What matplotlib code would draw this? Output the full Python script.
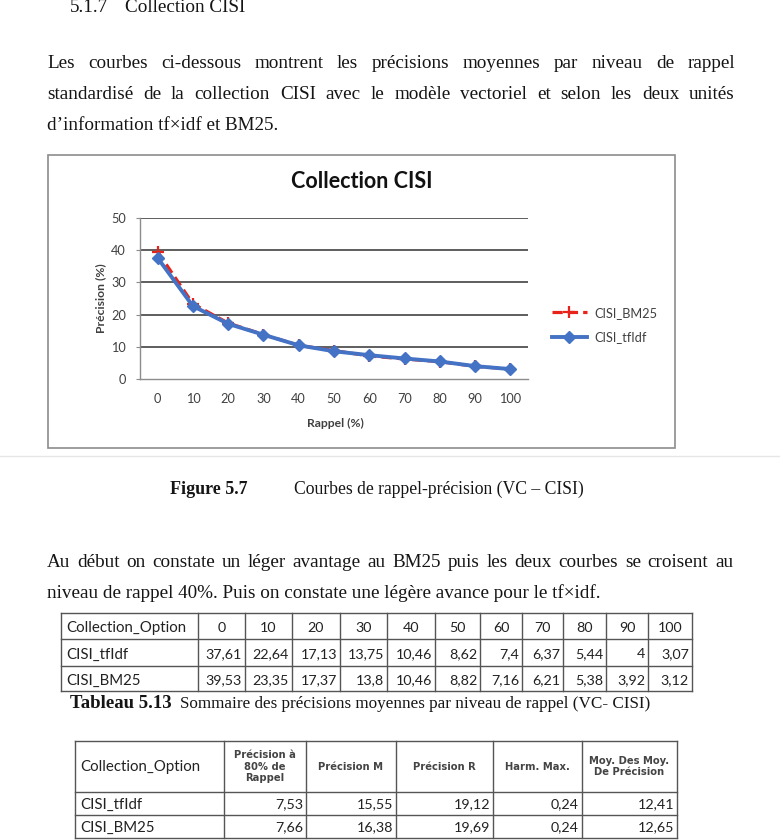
import matplotlib
matplotlib.use('Agg')
import matplotlib.pyplot as plt
from matplotlib.patches import Rectangle

# ---------------- data ----------------
recall = [0, 10, 20, 30, 40, 50, 60, 70, 80, 90, 100]
prec_tfidf = [37.61, 22.64, 17.13, 13.75, 10.46, 8.62, 7.4, 6.37, 5.44, 4, 3.07]
prec_bm25 = [39.53, 23.35, 17.37, 13.8, 10.46, 8.82, 7.16, 6.21, 5.38, 3.92, 3.12]
name_tfidf = 'CISI_tfIdf'
name_bm25 = 'CISI_BM25'
yticks = [0, 10, 20, 30, 40, 50]

summary_headers = ['Précision à\n80% de\nRappel', 'Précision M', 'Précision R',
                   'Harm. Max.', 'Moy. Des Moy.\nDe Précision']
summary_tfidf = [7.53, 15.55, 19.12, 0.24, 12.41]
summary_bm25 = [7.66, 16.38, 19.69, 0.24, 12.65]

W, H = 780, 840
SERIF = 'Liberation Serif'
SANS = 'Lato'
BODY = 13.8

fig = plt.figure(figsize=(W / 100, H / 100), dpi=100)
fig.patch.set_facecolor('white')
page = fig.add_axes([0, 0, 1, 1])
page.set_xlim(0, W)
page.set_ylim(H, 0)
page.axis('off')
renderer = fig.canvas.get_renderer()


def fmt(v):
    return f"{v:g}".replace('.', ',')


def text_width(t):
    return t.get_window_extent(renderer=renderer).width


def justify(line, y, x0, x1, size=BODY, family=SERIF):
    words = line.split(' ')
    items = [page.text(0, y, w, fontsize=size, family=family, va='baseline', ha='left',
                       color='#151515') for w in words]
    widths = [text_width(t) for t in items]
    gap = (x1 - x0 - sum(widths)) / (len(words) - 1)
    x = x0
    for t, w in zip(items, widths):
        t.set_x(x)
        x += w + gap


def put(txt, x, y, size=BODY, weight='normal', family=SERIF):
    page.text(x, y, txt, fontsize=size, family=family, weight=weight,
              va='baseline', ha='left', color='#151515')


# ---------------- page text ----------------
put('5.1.7', 70, 12)
put('Collection CISI', 125, 12)

justify('Les courbes ci-dessous montrent les précisions moyennes par niveau de rappel', 68, 47, 735)
justify('standardisé de la collection CISI avec le modèle vectoriel et selon les deux unités', 99, 47, 735)
put('d\u2019information tf\u00d7idf et BM25.', 47, 130)

# chart frame
page.add_patch(Rectangle((48, 155), 627, 293, fill=False, ec='#8c8c8c', lw=1.2))
page.plot([0, W], [456, 456], color='#e6e6e6', lw=1)

page.text(362, 181, 'Collection CISI', fontsize=15.5, family=SANS, weight='bold',
          ha='center', va='center', color='#111111')

# ---------------- chart ----------------
ax = fig.add_axes([140 / W, 1 - 379 / H, 388 / W, 161 / H])
ax.patch.set_alpha(0)
cats = [str(r) for r in recall]
ax.plot(cats, prec_bm25, color='#E8231A', ls=(0, (3.2, 1.6)), lw=2.3, marker='+',
        ms=9, mew=1.6, label=name_bm25, zorder=3)
ax.plot(cats, prec_tfidf, color='#4472C4', lw=2.8, marker='D', ms=6.5,
        label=name_tfidf, zorder=4)
ax.set_xlim(-0.5, len(cats) - 0.5)
ax.set_ylim(0, 50)
ax.set_yticks(yticks)
ax.yaxis.grid(True, color='#333333', lw=1.1)
ax.set_axisbelow(True)
for sp in ['top', 'right']:
    ax.spines[sp].set_visible(False)
for sp in ['left', 'bottom']:
    ax.spines[sp].set_color('#8c8c8c')
    ax.spines[sp].set_linewidth(1.0)
ax.tick_params(axis='y', length=3, color='#8c8c8c', labelsize=9.2, labelcolor='#404040', pad=7)
ax.tick_params(axis='x', length=0, labelsize=9.2, labelcolor='#404040', pad=10)
for lab in ax.get_xticklabels() + ax.get_yticklabels():
    lab.set_family(SANS)
fig.canvas.draw()
ax.yaxis.get_gridlines()[0].set_visible(False)

page.text(101, 298, 'Précision (%)', rotation=90, fontsize=8.7, family=SANS, weight='bold',
          ha='center', va='center', color='#404040')
page.text(335, 423, 'Rappel (%)', fontsize=8.7, family=SANS, weight='bold',
          ha='center', va='center', color='#404040')

leg = fig.legend(loc='center left', bbox_to_anchor=(552 / W, 1 - 325 / H), frameon=False,
                 prop={'family': SANS, 'size': 9.2}, handlelength=2.7, handletextpad=0.6,
                 labelspacing=1.0, borderpad=0, borderaxespad=0)
for t in leg.get_texts():
    t.set_color('#404040')

# ---------------- captions / paragraph ----------------
put('Figure 5.7', 170, 494, size=13, weight='bold')
put('Courbes de rappel-précision (VC \u2013 CISI)', 294, 494, size=12.7)

justify('Au début on constate un léger avantage au BM25 puis les deux courbes se croisent au', 567, 47, 733)
put('niveau de rappel 40%. Puis on constate une légère avance pour le tf\u00d7idf.', 47, 598)

# ---------------- table 1 ----------------
tc = '#555555'
txc = '#222222'
nsz = 10.3   # numbers
lsz = 10.8   # labels
cols1 = [61, 198, 245, 292, 340, 387, 435, 480, 522, 563, 606, 648, 692]
rows1 = [613, 639, 666, 691]
for xv in cols1:
    page.plot([xv, xv], [rows1[0], rows1[-1]], color=tc, lw=1)
for yv in rows1:
    page.plot([cols1[0], cols1[-1]], [yv, yv], color=tc, lw=1)
page.text(cols1[0] + 5, (rows1[0] + rows1[1]) / 2 + 2, 'Collection_Option', fontsize=lsz,
          family=SANS, va='center', ha='left', color=txc)
for i, r in enumerate(recall):
    page.text((cols1[i + 1] + cols1[i + 2]) / 2, (rows1[0] + rows1[1]) / 2 + 2, str(r),
              fontsize=nsz, family=SANS, va='center', ha='center', color=txc)
for ri, (nm, vals) in enumerate([(name_tfidf, prec_tfidf), (name_bm25, prec_bm25)]):
    yc = (rows1[ri + 1] + rows1[ri + 2]) / 2 + 2
    page.text(cols1[0] + 5, yc, nm, fontsize=lsz, family=SANS, va='center', ha='left', color=txc)
    for i, v in enumerate(vals):
        page.text(cols1[i + 2] - 3, yc, fmt(v), fontsize=nsz, family=SANS, va='center',
                  ha='right', color=txc)

put('Tableau 5.13', 70, 708, size=13.5, weight='bold')
put('Sommaire des précisions moyennes par niveau de rappel (VC- CISI)', 180, 708, size=12.3)

# ---------------- table 2 ----------------
cols2 = [75, 224, 306, 396, 493, 582, 677]
rows2 = [741, 792, 815, 838]
for xv in cols2:
    page.plot([xv, xv], [rows2[0], rows2[-1]], color=tc, lw=1)
for yv in rows2:
    page.plot([cols2[0], cols2[-1]], [yv, yv], color=tc, lw=1)
page.text(cols2[0] + 5, (rows2[0] + rows2[1]) / 2 + 1, 'Collection_Option', fontsize=lsz,
          family=SANS, va='center', ha='left', color=txc)
for i, hd in enumerate(summary_headers):
    page.text((cols2[i + 1] + cols2[i + 2]) / 2, (rows2[0] + rows2[1]) / 2, hd, fontsize=7.2,
              family='DejaVu Sans', weight='bold', va='center', ha='center',
              color='#444444', linespacing=1.15)
for ri, (nm, vals) in enumerate([(name_tfidf, summary_tfidf), (name_bm25, summary_bm25)]):
    yc = (rows2[ri + 1] + rows2[ri + 2]) / 2 + 1
    page.text(cols2[0] + 5, yc, nm, fontsize=lsz, family=SANS, va='center', ha='left', color=txc)
    for i, v in enumerate(vals):
        page.text(cols2[i + 2] - 3, yc, fmt(v), fontsize=nsz, family=SANS, va='center',
                  ha='right', color=txc)

fig.savefig('out.png', dpi=100, facecolor='white')
